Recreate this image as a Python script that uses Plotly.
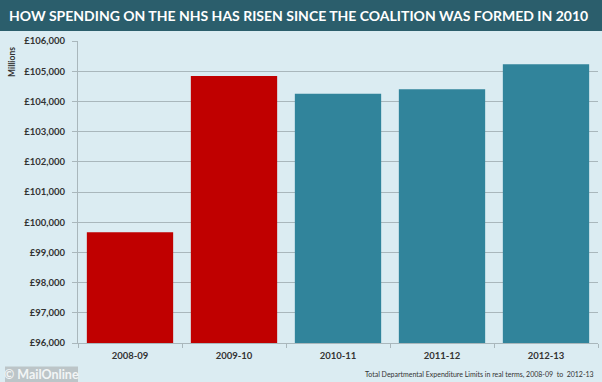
import plotly.graph_objects as go

categories = ["2008-09", "2009-10", "2010-11", "2011-12", "2012-13"]
values = [99670, 104840, 104250, 104400, 105230]
bar_colors = ["#c00000", "#c00000", "#31849b", "#31849b", "#31849b"]
tick_vals = list(range(96000, 106001, 1000))
tick_text = ["£{:,}".format(v) for v in tick_vals]

W, H = 602, 382
L, R, T, B = 78, 4, 41, 39
PW, PH = W - L - R, H - T - B

def px(x):
    return (x - L) / PW

def py(y):
    return (H - B - y) / PH

BG = "#dbecf2"
FONT = "Lato"

fig = go.Figure(go.Bar(
    x=categories, y=values, marker=dict(color=bar_colors, line=dict(width=0)),
))

fig.update_layout(
    width=W, height=H,
    margin=dict(l=L, r=R, t=T, b=B),
    paper_bgcolor=BG, plot_bgcolor=BG,
    showlegend=False,
    bargap=0.17,
    font=dict(family=FONT, color="#333333"),
)

fig.update_yaxes(
    range=[96000, 106000], tickvals=tick_vals, ticktext=tick_text,
    showgrid=True, gridcolor="#a9b7bc", gridwidth=1,
    showline=True, linecolor="#a9b7bc", linewidth=1,
    ticks="outside", ticklen=5, tickcolor="#a9b7bc", ticklabelstandoff=5,
    tickfont=dict(family=FONT, size=9.5, color="#333333", weight="bold"),
    zeroline=False,
)
fig.update_xaxes(
    type="category",
    showline=True, linecolor="#a9b7bc", linewidth=1,
    ticks="outside", ticklen=4, tickcolor="#a9b7bc", tickson="boundaries",
    ticklabelstandoff=4,
    tickfont=dict(family=FONT, size=9.5, color="#333333", weight="bold"),
)

shapes = [
    dict(type="rect", xref="paper", yref="paper",
         x0=px(0), x1=px(W), y0=py(31), y1=py(0),
         fillcolor="#2b5e6c", line=dict(width=0), layer="below"),
    dict(type="rect", xref="paper", yref="paper",
         x0=px(5), x1=px(78), y0=py(382), y1=py(366.5),
         fillcolor="#bcc5c8", line=dict(width=0)),
]
fig.update_layout(shapes=shapes)

annotations = [
    dict(text="HOW SPENDING ON THE NHS HAS RISEN SINCE THE COALITION WAS FORMED IN 2010",
         xref="paper", yref="paper", x=px(7), y=py(16), xanchor="left", yanchor="middle",
         showarrow=False, font=dict(family=FONT, size=14, color="white", weight="bold")),
    dict(text="Millions", xref="paper", yref="paper", x=px(12), y=py(62),
         xanchor="center", yanchor="middle", textangle=-90, showarrow=False,
         font=dict(family=FONT, size=8.5, color="#333333", weight="bold")),
    dict(text="Total Departmental Expenditure Limits in real terms, 2008-09  to  2012-13",
         xref="paper", yref="paper", x=px(596), y=py(374), xanchor="right", yanchor="middle",
         showarrow=False, font=dict(family=FONT, size=7, color="#333333")),
    dict(text="© MailOnline", xref="paper", yref="paper", x=px(41.5), y=py(374.5),
         xanchor="center", yanchor="middle", showarrow=False,
         font=dict(family=FONT, size=12.5, color="#f2f5f6", weight="bold")),
]
fig.update_layout(annotations=annotations)

fig.write_html("out.html", config={"displayModeBar": False},
               post_script="document.body.style.margin='0';")
